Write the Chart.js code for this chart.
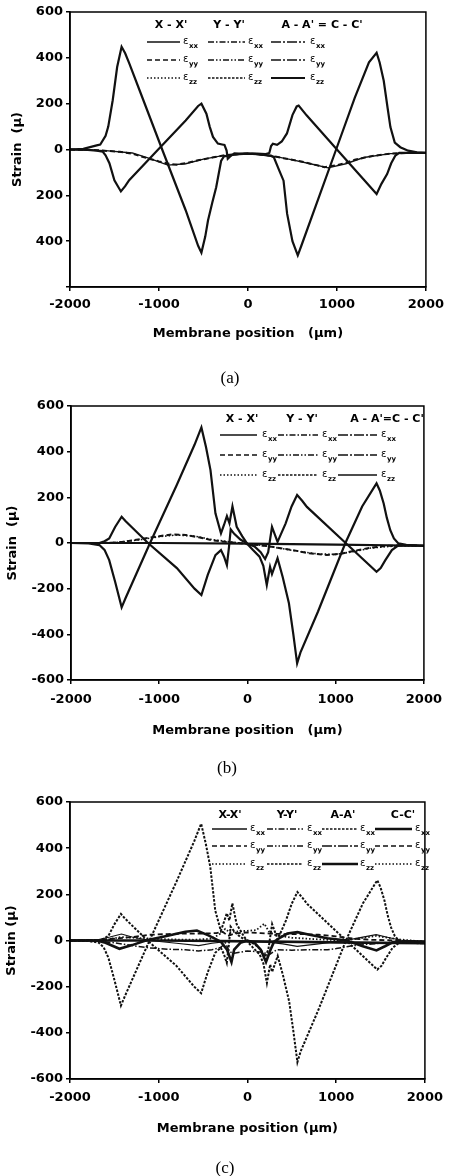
<!DOCTYPE html>
<html>
<head>
<meta charset="utf-8">
<script src="https://cdn.jsdelivr.net/npm/chart.js@4.4.1/dist/chart.umd.min.js"></script>
<style>
  body { margin: 0; background: #fff; width: 450px; height: 1176px; position: relative; overflow: hidden; }
  canvas { position: absolute; left: 0; }
  .cap { position: absolute; font-family: 'Liberation Serif', 'DejaVu Serif', serif; font-size: 17px; line-height: 1; transform: translate(-50%, -50%); color: #000; }
</style>
</head>
<body>
<canvas id="chartA" width="450" height="390" style="top:0"></canvas>
<canvas id="chartB" width="450" height="390" style="top:390px"></canvas>
<canvas id="chartC" width="450" height="396" style="top:780px"></canvas>
<div class="cap" style="left:230px;top:377px">(a)</div>
<div class="cap" style="left:227px;top:767px">(b)</div>
<div class="cap" style="left:225px;top:1167px">(c)</div>
<script>
// axes
const xTickVals = [-2000, -1000, 0, 1000, 2000];
const xTickLabels = ['-2000', '-1000', '0', '1000', '2000'];
const yTickVals = [-600, -400, -200, 0, 200, 400, 600];
const yTickLabelsA = ['', '400', '200', '0', '200', '400', '600']; // minus signs lost in print on (a)
const yTickLabelsBC = ['-600', '-400', '-200', '0', '200', '400', '600'];
const strainSubs = ['xx', 'yy', 'zz'];

// (a) strain along the sections, [position um, strain]
const aExx = [[-2000,0],[-1850,3],[-1700,18],[-1660,22],[-1600,60],[-1570,100],[-1520,215],[-1470,360],[-1420,448],[-1380,420],[-1335,377],[-1200,240],[-964,0],[-700,-265],[-560,-420],[-523,-450],[-480,-380],[-449,-310],[-400,-230],[-357,-165],[-302,-50],[-270,-30],[-200,-25],[-100,-20],[0,-18],
  [100,-20],[200,-25],[260,-28],[291,-34],[350,-90],[400,-136],[440,-280],[500,-400],[560,-462],[600,-420],[991,0],[1200,225],[1360,380],[1446,422],[1480,380],[1526,300],[1570,180],[1601,98],[1650,30],[1712,10],[1800,-5],[1900,-12],[2000,-15]];
const aEyy = [[-2000,0],[-1800,-2],[-1700,-5],[-1631,-10],[-1600,-25],[-1557,-60],[-1501,-134],[-1428,-183],[-1380,-160],[-1335,-134],[-1009,0],[-700,127],[-560,190],[-523,200],[-467,156],[-430,100],[-393,55],[-338,26],[-290,22],[-264,20],[-240,-5],[-227,-40],[-200,-30],[-153,-17],[-100,-18],[0,-18],
  [100,-18],[200,-20],[240,-15],[260,15],[280,25],[327,20],[380,35],[438,70],[500,150],[548,188],[570,192],[659,149],[1000,0],[1446,-194],[1500,-150],[1564,-107],[1610,-60],[1657,-26],[1700,-15],[2000,-15]];
const aEzz = [[-2000,0],[-1700,-3],[-1440,-10],[-1300,-18],[-1188,-32],[-1000,-52],[-892,-62],[-800,-66],[-700,-60],[-560,-47],[-400,-35],[-264,-25],[-100,-20],[0,-18],[100,-20],[264,-27],[400,-38],[600,-52],[860,-77],[1000,-68],[1100,-58],[1200,-45],[1400,-28],[1600,-18],[1800,-15],[2000,-15]];
const aEzz2 = [[-2000,0],[-1600,-5],[-1300,-15],[-1100,-40],[-900,-68],[-700,-62],[-500,-42],[-300,-28],[0,-18],[300,-30],[500,-45],[700,-62],[900,-80],[1100,-62],[1300,-35],[1600,-18],[2000,-15]];

// (b) and the A-A' / C-C' curves repeated in (c)
const bExx = [[-2000,0],[-1800,-2],[-1678,-9],[-1620,-30],[-1567,-75],[-1500,-170],[-1426,-282],[-1380,-240],[-1104,0],[-800,255],[-600,430],[-522,506],[-470,420],[-419,319],[-363,130],[-300,42],[-265,80],[-233,118],[-204,87],[-170,161],[-122,71],[-60,30],[0,-5],
  [60,-30],[137,-60],[180,-100],[219,-184],[256,-104],[278,-136],[341,-67],[400,-150],[470,-264],[520,-400],[563,-527],[600,-480],[800,-300],[1110,0],[1300,160],[1463,261],[1500,230],[1544,173],[1580,110],[1619,56],[1660,20],[1711,-2],[1800,-8],[2000,-12]];
const bEyy = [[-2000,0],[-1678,0],[-1620,8],[-1567,20],[-1500,70],[-1426,115],[-1380,95],[-1127,0],[-800,-110],[-600,-200],[-522,-228],[-450,-140],[-363,-53],[-300,-31],[-265,-60],[-233,-97],[-210,-20],[-190,60],[-150,40],[-80,15],[0,-3],
  [80,-15],[150,-40],[200,-70],[235,-40],[278,71],[341,5],[433,86],[500,160],[563,210],[620,185],[674,158],[1113,0],[1463,-126],[1510,-110],[1563,-75],[1637,-31],[1711,-10],[2000,-12]];
const bEzz = [[-2000,0],[-1600,0],[-1400,5],[-1200,18],[-1000,30],[-850,38],[-700,35],[-550,25],[-400,12],[-250,5],[-100,0],[0,-5],[150,-10],[300,-18],[500,-30],[700,-45],[900,-52],[1050,-48],[1200,-35],[1400,-20],[1600,-12],[1800,-10],[2000,-12]];
const bEzz2 = [[-2000,0],[-1500,2],[-1200,15],[-1000,28],[-800,35],[-600,30],[-400,15],[-200,5],[0,-3],[200,-12],[400,-25],[600,-38],[800,-48],[1000,-50],[1200,-38],[1400,-22],[1700,-12],[2000,-12]];
const bFlat = [[-2000,0],[-1000,0],[0,-3],[1000,-7],[2000,-12]];

// (c) the small curves
const cThick = [[-2000,0],[-1700,0],[-1600,-10],[-1443,-36],[-1300,-20],[-1146,0],[-886,22],[-700,38],[-570,43],[-440,22],[-300,-5],[-230,-40],[-180,-93],[-150,-40],[-80,-10],[0,0],[80,-10],[150,-40],[209,-93],[260,-40],[300,-5],[376,14],[450,30],[563,36],[700,25],[900,10],[1120,0],[1300,-25],[1454,-43],[1550,-25],[1640,-7],[1800,-3],[2000,-5]];
const cThin = [[-2000,0],[-1700,2],[-1550,15],[-1420,28],[-1300,15],[-1100,0],[-800,-12],[-550,-22],[-400,-12],[-250,-5],[0,-5],[250,-8],[400,-15],[560,-25],[800,-15],[1100,0],[1300,15],[1450,25],[1600,12],[1750,0],[2000,-5]];
const cDash = [[-2000,0],[-1700,2],[-1500,8],[-1300,15],[-1100,25],[-900,28],[-700,30],[-500,30],[-350,32],[-280,38],[-220,20],[-150,30],[0,35],[150,32],[250,30],[400,28],[600,28],[800,25],[1000,18],[1200,8],[1400,3],[1700,0],[2000,-5]];
const cDashDot = [[-2000,0],[-1700,-2],[-1500,-10],[-1300,-22],[-1100,-32],[-900,-38],[-700,-40],[-550,-45],[-400,-40],[-300,-30],[-250,-10],[-200,-50],[-150,-55],[0,-45],[150,-50],[250,-60],[330,-40],[500,-42],[700,-40],[900,-40],[1000,-35],[1200,-22],[1400,-15],[1700,-5],[2000,-5]];
const cDot = [[-2000,0],[-1600,3],[-1420,15],[-1200,10],[-900,5],[-600,3],[-400,8],[-300,30],[-250,50],[-200,35],[-100,40],[0,42],[100,45],[190,73],[240,40],[300,25],[500,12],[800,5],[1100,0],[1450,20],[1700,5],[2000,-5]];
const cFlat = [[-2000,0],[-1000,0],[0,-3],[1000,-8],[2000,-12]];

const LS = {
  solid: { dash: [], w: 1.6 },
  heavy: { dash: [], w: 2.2 },
  thick: { dash: [], w: 2.6 },
  dash: { dash: [5, 3], w: 1.6 },
  dot: { dash: [1.5, 2], w: 1.6 },
  dashDot: { dash: [6, 2, 1.5, 2], w: 1.4 },
  dashDotDot: { dash: [6, 2, 1.5, 2, 1.5, 2], w: 1.4 },
  dense: { dash: [2.5, 1.5], w: 1.4 },
  longDashDot: { dash: [10, 2, 2, 2], w: 1.6 }
};

Chart.defaults.font.family = "'DejaVu Sans', sans-serif";
Chart.defaults.color = '#000';

function line(points, st, w) {
  return {
    data: points.map(p => ({ x: p[0], y: p[1] })),
    borderColor: '#111', borderWidth: w || st.w, borderDash: st.dash,
    pointRadius: 0, tension: 0, fill: false
  };
}

const strainLegend = {
  id: 'strainLegend',
  afterDatasetsDraw(chart, args, o) {
    if (!o.heads) return;
    const ctx = chart.ctx;
    ctx.save();
    ctx.fillStyle = '#000';
    ctx.textBaseline = 'middle';
    ctx.font = "bold 11px 'DejaVu Sans'";
    ctx.textAlign = 'center';
    o.heads.forEach((h, i) => ctx.fillText(h, o.headX[i], o.headY));
    o.cols.forEach((c, i) => {
      o.rowY.forEach((y, r) => {
        const st = o.styles[i][r];
        ctx.strokeStyle = '#111';
        ctx.lineWidth = st.w;
        ctx.setLineDash(st.dash);
        ctx.beginPath(); ctx.moveTo(c[0], y); ctx.lineTo(c[1], y); ctx.stroke();
        ctx.setLineDash([]);
        ctx.textAlign = 'left';
        ctx.font = "10px 'DejaVu Sans'";
        ctx.fillText('ε', c[2], y - 1);
        ctx.font = "bold 7px 'DejaVu Sans'";
        ctx.fillText(strainSubs[r], c[2] + 6, y + 4);
      });
    });
    ctx.restore();
  }
};

const frame = {
  id: 'frame',
  afterDraw(chart) {
    const { ctx, chartArea: a } = chart;
    ctx.save();
    ctx.strokeStyle = '#000';
    ctx.lineWidth = 1.5;
    ctx.strokeRect(a.left, a.top, a.right - a.left, a.bottom - a.top);
    ctx.restore();
  }
};

function build(id, datasets, p) {
  const tickFont = { family: "'DejaVu Sans'", size: 13, weight: 'bold' };
  const titleFont = { family: "'DejaVu Sans'", size: 13, weight: 'bold' };
  return new Chart(document.getElementById(id), {
    type: 'line',
    data: { datasets },
    plugins: [strainLegend, frame],
    options: {
      responsive: false,
      animation: false,
      layout: { padding: p.pad },
      plugins: { legend: { display: false }, tooltip: { enabled: false }, strainLegend: p.legend },
      scales: {
        x: {
          type: 'linear', min: -2000, max: 2000,
          afterBuildTicks: s => { s.ticks = xTickVals.map(v => ({ value: v })); },
          afterFit: s => { s.height = p.xH; },
          ticks: { font: tickFont, color: '#000', padding: p.xPad, maxRotation: 0, autoSkip: false, callback: (v, i) => xTickLabels[i] },
          grid: { drawOnChartArea: false, tickLength: 4, color: '#000', lineWidth: 1.5 },
          border: { color: '#000', width: 1.5 },
          title: { display: true, text: p.xTitle, font: titleFont, color: '#000', padding: { top: 0, bottom: 0 } }
        },
        y: {
          min: -600, max: 600,
          afterBuildTicks: s => { s.ticks = yTickVals.map(v => ({ value: v })); },
          afterFit: s => { s.width = p.yW; },
          ticks: { font: tickFont, color: '#000', padding: 3, autoSkip: false, callback: (v, i) => p.yLabels[i] },
          grid: { drawOnChartArea: false, tickLength: 4, color: '#000', lineWidth: 1.5 },
          border: { color: '#000', width: 1.5 },
          title: { display: true, text: p.yTitle, font: titleFont, color: '#000', padding: { top: p.yTitlePad, bottom: 0 } }
        }
      }
    }
  });
}

build('chartA', [
  line(aExx, LS.heavy), line(aEyy, LS.heavy), line(aEzz, LS.dash, 2), line(aEzz2, LS.solid, 1.4)
], {
  pad: { top: 12, right: 19, bottom: 49, left: 0 }, xH: 54, yW: 70, xPad: 6, yTitlePad: 10,
  xTitle: 'Membrane position   (μm)', yTitle: 'Strain  (μ)', yLabels: yTickLabelsA,
  legend: {
    heads: ["X - X'", "Y - Y'", "A - A' = C - C'"], headX: [171, 229, 322], headY: 25,
    rowY: [42, 60, 78],
    cols: [[147, 180, 183], [208, 245, 248], [271, 305, 310]],
    styles: [[LS.solid, LS.dash, LS.dot], [LS.dashDot, LS.dashDotDot, LS.dense], [LS.longDashDot, LS.longDashDot, LS.heavy]]
  }
});

build('chartB', [
  line(bExx, LS.heavy), line(bEyy, LS.heavy), line(bEzz, LS.dash, 2), line(bEzz2, LS.dot), line(bFlat, LS.heavy)
], {
  pad: { top: 16, right: 19, bottom: 42, left: 0 }, xH: 58, yW: 71, xPad: 8, yTitlePad: 5,
  xTitle: 'Membrane position   (μm)', yTitle: 'Strain  (μ)', yLabels: yTickLabelsBC,
  legend: {
    heads: ["X - X'", "Y - Y'", "A - A'=C - C'"], headX: [242, 302, 387], headY: 29,
    rowY: [45, 65, 85],
    cols: [[220, 257, 262], [278, 318, 322], [338, 377, 381]],
    styles: [[LS.solid, LS.dash, LS.dot], [LS.dashDot, LS.dashDotDot, LS.dense], [LS.longDashDot, LS.longDashDot, LS.solid]]
  }
});

build('chartC', [
  line(bExx, LS.dense, 2), line(bEyy, LS.dense, 2),
  line(cThick, LS.thick), line(cThin, LS.solid, 1.2), line(cDash, LS.dash, 1.8),
  line(cDashDot, LS.dashDot, 1.5), line(cDot, LS.dot, 1.8), line(cFlat, LS.thick)
], {
  pad: { top: 22, right: 21, bottom: 40, left: 0 }, xH: 57, yW: 70, xPad: 7, yTitlePad: 4,
  xTitle: 'Membrane position (μm)', yTitle: 'Strain (μ)', yLabels: yTickLabelsBC,
  legend: {
    heads: ["X-X'", "Y-Y'", "A-A'", "C-C'"], headX: [230, 287, 343, 403], headY: 35,
    rowY: [49, 66, 84],
    cols: [[212, 247, 250], [267, 303, 307], [322, 358, 360], [375, 412, 415]],
    styles: [[LS.solid, LS.dash, LS.dot], [LS.dashDot, LS.dashDotDot, LS.dense], [LS.dense, LS.longDashDot, LS.thick], [LS.thick, LS.dash, LS.dot]]
  }
});
</script>
</body>
</html>
